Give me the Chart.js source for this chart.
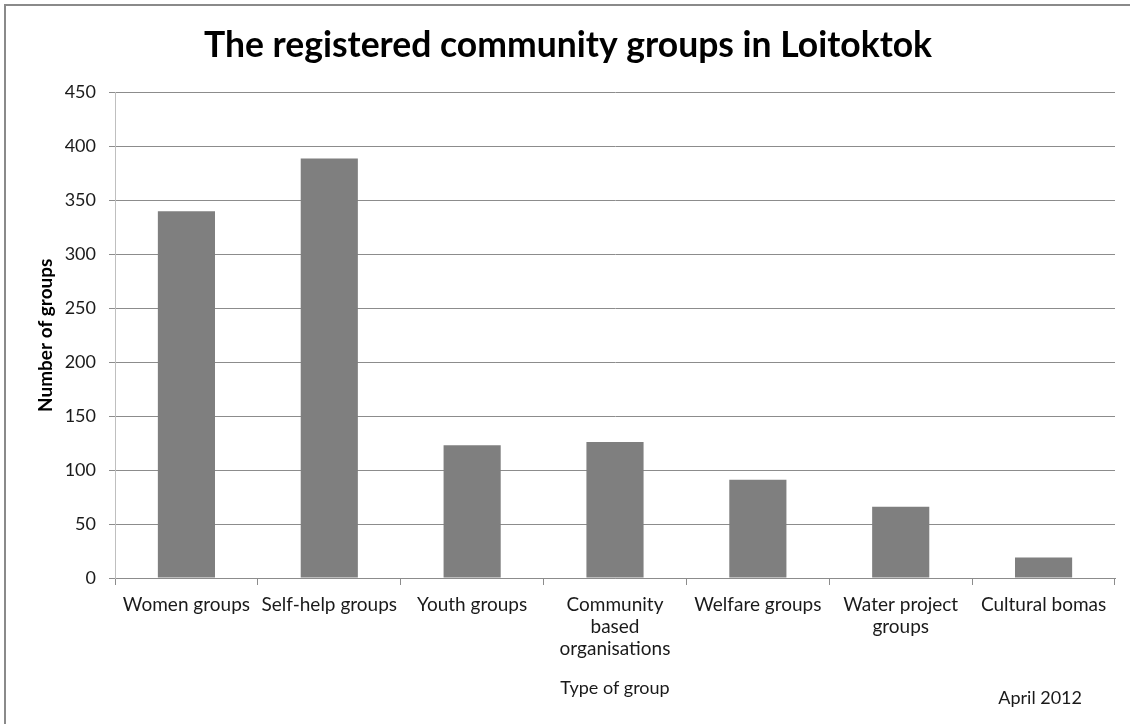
<!DOCTYPE html>
<html>
<head>
<meta charset="utf-8">
<script src="https://cdn.jsdelivr.net/npm/chart.js@4.4.1/dist/chart.umd.min.js"></script>
<style>
  html, body { margin: 0; padding: 0; background: #fff; }
  #wrap { position: relative; width: 1130px; height: 724px; overflow: hidden; }
  #frame { position: absolute; left: 4px; top: 4px; width: 1200px; height: 800px; border: 2px solid #8a8a8a; }
  #chart { position: absolute; left: 0; top: 0; }
</style>
</head>
<body>
<div id="wrap">
  <div id="frame"></div>
  <canvas id="chart" width="1130" height="724"></canvas>
</div>
<script>
// ── DADOS ────────────────────────────────────────────────────────────────────
const categorias = [
  'Women groups',
  'Self-help groups',
  'Youth groups',
  ['Community', 'based', 'organisations'],
  'Welfare groups',
  ['Water project', 'groups'],
  'Cultural bomas'
]
const numeroGrupos = [340, 389, 123, 126, 91, 66, 19]
const yTicks = [0, 50, 100, 150, 200, 250, 300, 350, 400, 450]

const tituloGrafico = 'The registered community groups in Loitoktok'
const tituloY = 'Number of groups'
const tituloX = 'Type of group'
const rodape = 'April 2012'

// ── ESTILO ───────────────────────────────────────────────────────────────────
const FONTE = "Lato, 'Liberation Sans', Arial, sans-serif"
const COR_BARRA = '#7f7f7f'
const COR_GRADE = '#8c8c8c'
const COR_TEXTO = '#1a1a1a'

// texto "April 2012" no canto inferior direito
const rodapePlugin = {
  id: 'rodape',
  afterDraw(chart) {
    const ctx = chart.ctx
    ctx.save()
    ctx.font = '18px ' + FONTE
    ctx.fillStyle = COR_TEXTO
    ctx.textAlign = 'right'
    ctx.textBaseline = 'middle'
    ctx.fillText(rodape, 1082, 698)
    ctx.restore()
  }
}

new Chart(document.getElementById('chart').getContext('2d'), {
  type: 'bar',
  data: {
    labels: categorias,
    datasets: [{
      data: numeroGrupos,
      backgroundColor: COR_BARRA,
      borderWidth: 0,
      categoryPercentage: 1,
      barPercentage: 0.4
    }]
  },
  options: {
    responsive: false,
    animation: false,
    layout: { padding: { left: 21, right: 15, top: 0, bottom: 0 } },
    plugins: {
      legend: { display: false },
      tooltip: { enabled: false },
      title: {
        display: true,
        text: tituloGrafico,
        color: '#000',
        font: { family: FONTE, size: 35.5, weight: 'bold', lineHeight: 1.2 },
        padding: { top: 24, bottom: 26 }
      }
    },
    scales: {
      x: {
        offset: true,
        grid: {
          offset: true,
          drawOnChartArea: false,
          drawTicks: true,
          tickLength: 7,
          tickColor: '#8c8c8c'
        },
        border: { display: true, color: '#8c8c8c', width: 1 },
        ticks: {
          color: COR_TEXTO,
          font: { family: FONTE, size: 19, lineHeight: 1.16 },
          padding: 9,
          maxRotation: 0,
          minRotation: 0,
          autoSkip: false
        },
        title: {
          display: true,
          text: tituloX,
          color: COR_TEXTO,
          font: { family: FONTE, size: 18, lineHeight: 1.2 },
          padding: { top: 0, bottom: 25 }
        },
        afterFit(scale) { scale.height = 146 }
      },
      y: {
        min: 0,
        max: 450,
        afterBuildTicks(scale) { scale.ticks = yTicks.map(v => ({ value: v })) },
        grid: {
          color: COR_GRADE,
          lineWidth: 1,
          drawTicks: true,
          tickLength: 6,
          tickColor: '#8c8c8c'
        },
        border: { display: true, color: '#bfbfbf', width: 1 },
        ticks: {
          color: COR_TEXTO,
          font: { family: FONTE, size: 18 },
          padding: 13
        },
        title: {
          display: true,
          text: tituloY,
          color: '#000',
          font: { family: FONTE, size: 19, weight: 'bold', lineHeight: 1.2 },
          padding: { top: 13, bottom: 0 }
        },
        afterFit(scale) { scale.width = 94 }
      }
    }
  },
  plugins: [rodapePlugin]
})
</script>
</body>
</html>
